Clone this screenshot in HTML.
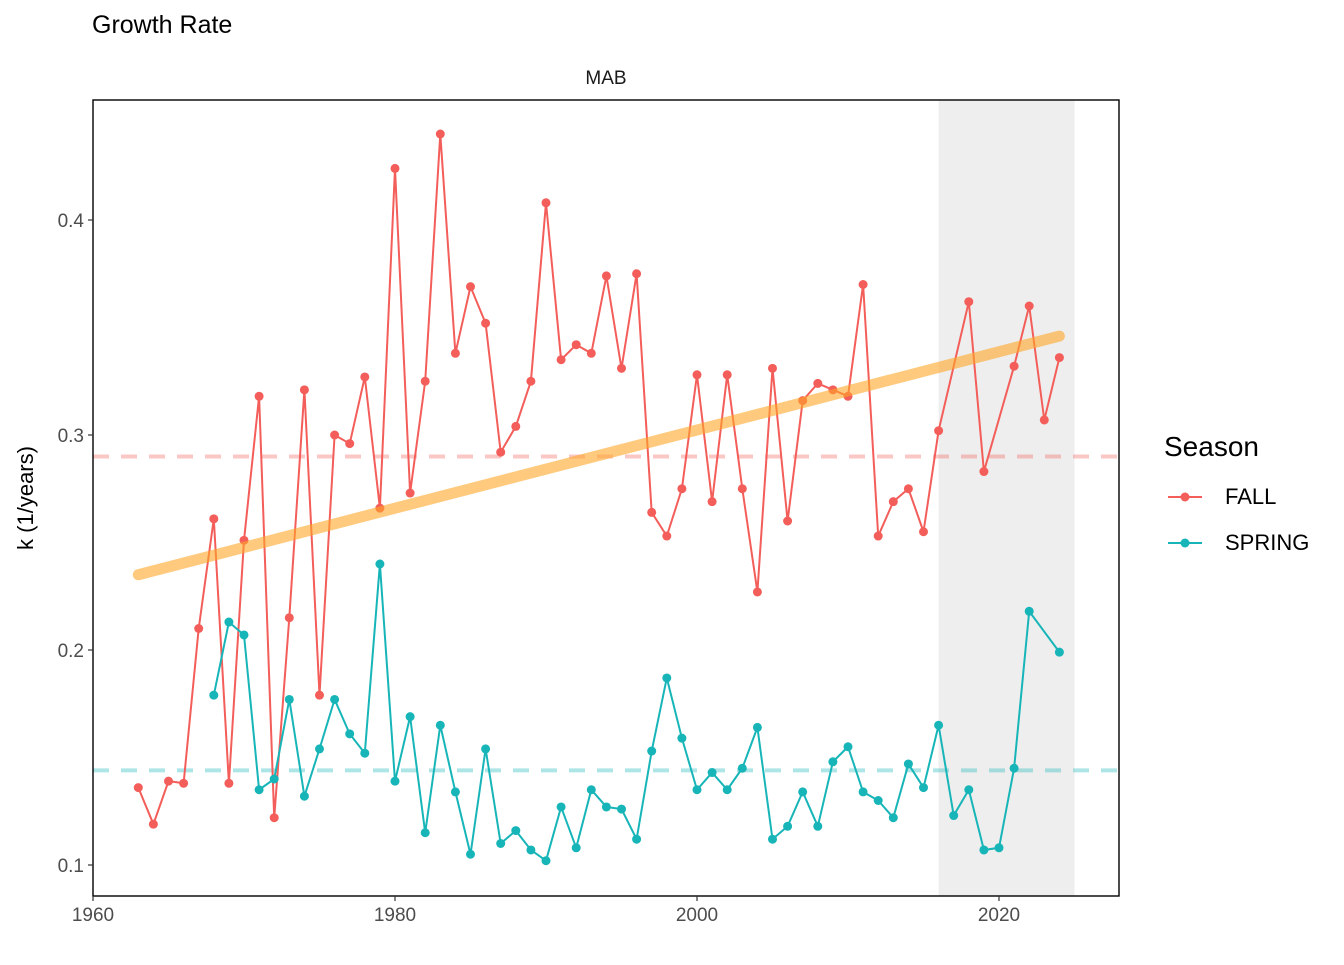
<!DOCTYPE html>
<html><head><meta charset="utf-8"><style>
body{margin:0;background:#fff;}
svg text{font-family:"Liberation Sans",Arial,sans-serif;}
</style></head><body>
<svg width="1344" height="960" xmlns="http://www.w3.org/2000/svg">
<text x="92" y="33" font-size="25" fill="#000">Growth Rate</text>
<text x="606" y="84" font-size="19" fill="#1a1a1a" text-anchor="middle">MAB</text>
<g id="plot"></g>
<text transform="translate(33,498) rotate(-90)" font-size="22" fill="#000" text-anchor="middle">k (1/years)</text>
<g>
<text x="1164" y="456" font-size="28" fill="#000">Season</text>
<g><line x1="1168" y1="497" x2="1202" y2="497" stroke="#F35E5A" stroke-width="2"/><circle cx="1185" cy="497" r="4.5" fill="#F35E5A"/><text x="1225" y="504" font-size="22" fill="#000">FALL</text></g>
<g><line x1="1168" y1="543" x2="1202" y2="543" stroke="#17B5B8" stroke-width="2"/><circle cx="1185" cy="543" r="4.5" fill="#17B5B8"/><text x="1225" y="550" font-size="22" fill="#000">SPRING</text></g>
</g>
</svg>
<script>
const fallYears=[1963,1964,1965,1966,1967,1968,1969,1970,1971,1972,1973,1974,1975,1976,1977,1978,1979,1980,1981,1982,1983,1984,1985,1986,1987,1988,1989,1990,1991,1992,1993,1994,1995,1996,1997,1998,1999,2000,2001,2002,2003,2004,2005,2006,2007,2008,2009,2010,2011,2012,2013,2014,2015,2016,2018,2019,2021,2022,2023,2024];
const fallK=[0.136,0.119,0.139,0.138,0.210,0.261,0.138,0.251,0.318,0.122,0.215,0.321,0.179,0.300,0.296,0.327,0.266,0.424,0.273,0.325,0.440,0.338,0.369,0.352,0.292,0.304,0.325,0.408,0.335,0.342,0.338,0.374,0.331,0.375,0.264,0.253,0.275,0.328,0.269,0.328,0.275,0.227,0.331,0.260,0.316,0.324,0.321,0.318,0.370,0.253,0.269,0.275,0.255,0.302,0.362,0.283,0.332,0.360,0.307,0.336];
const springYears=[1968,1969,1970,1971,1972,1973,1974,1975,1976,1977,1978,1979,1980,1981,1982,1983,1984,1985,1986,1987,1988,1989,1990,1991,1992,1993,1994,1995,1996,1997,1998,1999,2000,2001,2002,2003,2004,2005,2006,2007,2008,2009,2010,2011,2012,2013,2014,2015,2016,2017,2018,2019,2020,2021,2022,2024];
const springK=[0.179,0.213,0.207,0.135,0.140,0.177,0.132,0.154,0.177,0.161,0.152,0.240,0.139,0.169,0.115,0.165,0.134,0.105,0.154,0.110,0.116,0.107,0.102,0.127,0.108,0.135,0.127,0.126,0.112,0.153,0.187,0.159,0.135,0.143,0.135,0.145,0.164,0.112,0.118,0.134,0.118,0.148,0.155,0.134,0.130,0.122,0.147,0.136,0.165,0.123,0.135,0.107,0.108,0.145,0.218,0.199];
const trendYears=[1963,2024];
const trendK=[0.235,0.346];
const means=[0.290,0.144];
const shadeYears=[2016,2025];
const xTicks=[1960,1980,2000,2020];
const yTicks=[0.1,0.2,0.3,0.4];

const L=93,R=1119,T=100,B=896;
const x=v=>93+(v-1960)*15.1;
const y=v=>865-(v-0.1)*2150;
const NS="http://www.w3.org/2000/svg";
const g=document.getElementById('plot');
function mk(tag,attrs,parent){const e=document.createElementNS(NS,tag);for(const k in attrs)e.setAttribute(k,attrs[k]);(parent||g).appendChild(e);return e;}

let e=mk('rect',{x:x(shadeYears[0]),y:T,width:x(shadeYears[1])-x(shadeYears[0]),height:B-T,fill:'#EEEEEE'});


const mc=['#F35E5A','#17B5B8'];
means.forEach((m,i)=>{const l=mk('line',{x1:L,x2:R,y1:y(m),y2:y(m),stroke:mc[i],'stroke-opacity':0.35,'stroke-width':4,'stroke-dasharray':'16,12'});

});
function series(ys,ks,col,name){
 const pl=mk('polyline',{points:ys.map((v,i)=>x(v)+','+y(ks[i])).join(' '),fill:'none',stroke:col,'stroke-width':2});
 
 
 ys.forEach((v,i)=>{const c=mk('circle',{cx:x(v),cy:y(ks[i]),r:4.5,fill:col});
 
 });
}
series(fallYears,fallK,'#F35E5A','fall');
series(springYears,springK,'#17B5B8','spring');
e=mk('line',{x1:x(trendYears[0]),y1:y(trendK[0]),x2:x(trendYears[1]),y2:y(trendK[1]),stroke:'#FFA726','stroke-opacity':0.6,'stroke-width':11,'stroke-linecap':'round'});


e=mk('rect',{x:L,y:T,width:R-L,height:B-T,fill:'none',stroke:'#000','stroke-width':1.4});


xTicks.forEach(t=>{mk('line',{x1:x(t),x2:x(t),y1:B,y2:B+5,stroke:'#333','stroke-width':1.2});
 const tx=mk('text',{x:x(t),y:B+25,'font-size':19,fill:'#4d4d4d','text-anchor':'middle'});tx.textContent=t;
 
 });
yTicks.forEach(t=>{mk('line',{x1:L-5,x2:L,y1:y(t),y2:y(t),stroke:'#333','stroke-width':1.2});
 const tx=mk('text',{x:L-9,y:y(t)+7,'font-size':19,fill:'#4d4d4d','text-anchor':'end'});tx.textContent=t.toFixed(1);
 
 });
</script>
</body></html>
